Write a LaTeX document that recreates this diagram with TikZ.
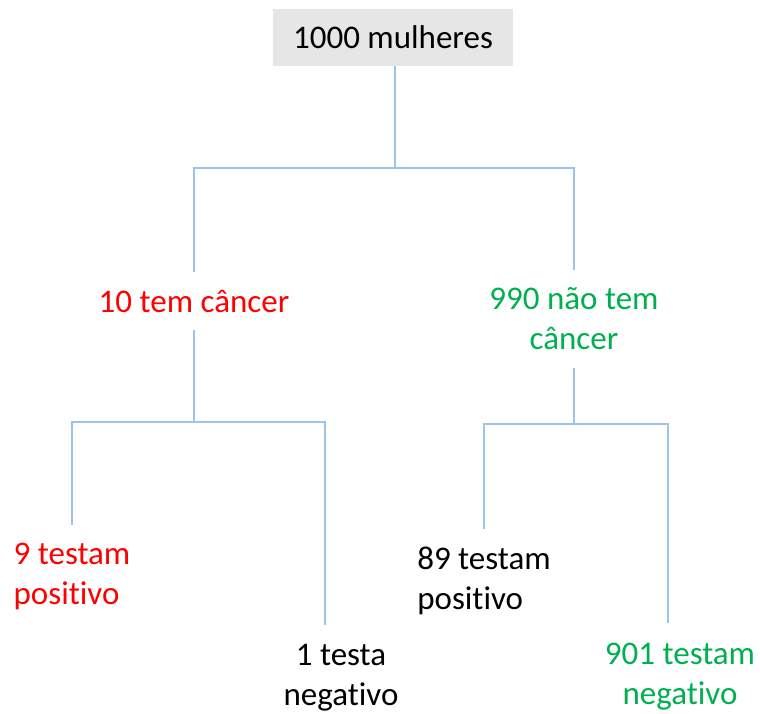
\documentclass[tikz,border=0pt]{standalone}
\usepackage{fontspec}
\setmainfont{Carlito}[Ligatures=NoCommon]
\definecolor{linkblue}{HTML}{9DC3E6}
\definecolor{boxgray}{HTML}{E7E6E6}
\definecolor{cancred}{HTML}{FF0000}
\definecolor{nocgreen}{HTML}{00B050}
\begin{document}
\begin{tikzpicture}
[   x=1pt, y=-1pt,
    link/.style={draw=linkblue, line width=2pt},
    lbl/.style={inner sep=0pt, outer sep=18pt, font=\fontsize{33}{40}\selectfont},
]
\useasboundingbox (0,0) rectangle (760,713);

\node[fill=boxgray, minimum width=240pt, minimum height=57pt, inner sep=0pt, font=\fontsize{33}{40}\selectfont] (root) at (393,37) {1000 mulheres};
\node[lbl, text=cancred] (c10) at (194,301) {10 tem câncer};
\node[lbl, text=nocgreen, align=center] (c990) at (574,319) {990 não tem\\câncer};
\node[lbl, text=cancred, align=left] (pos9) at (72,576) {9 testam\\positivo};
\node[lbl, align=center] (neg1) at (341,678) {1 testa\\negativo};
\node[lbl, align=left] (pos89) at (484,581) {89 testam\\positivo};
\node[lbl, text=nocgreen, align=center] (neg901) at (680,677) {901 testam\\negativo};

\coordinate (s1) at (395,168);
\coordinate (s2) at (194,422);
\coordinate (s3) at (574,424);
\coordinate (e1) at (325,625);
\coordinate (e2) at (668,623);

\draw[link] (root.south -| s1) -- (s1);
\draw[link] (c10.north) |- (s1);
\draw[link] (c990.north) |- (s1);

\draw[link] (c10) -- (s2);
\draw[link] (pos9.north) |- (s2);
\draw[link] (e1) |- (s2);

\draw[link] (c990) -- (s3);
\draw[link] (pos89.north) |- (s3);
\draw[link] (e2) |- (s3);

\end{tikzpicture}
\end{document}
